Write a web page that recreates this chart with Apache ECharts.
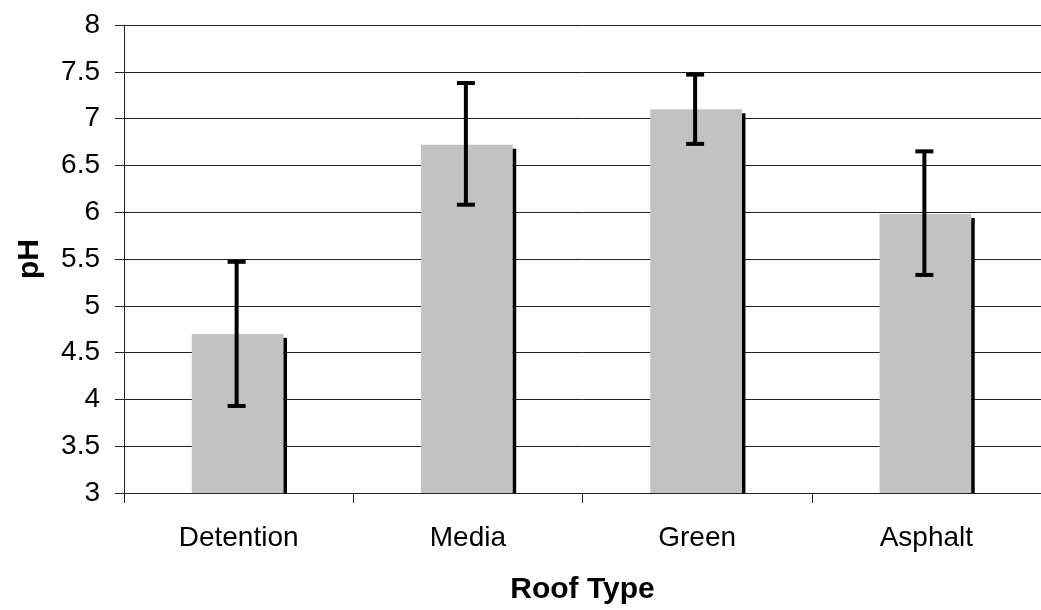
<!DOCTYPE html>
<html>
<head>
<meta charset="utf-8">
<script src="https://cdn.jsdelivr.net/npm/echarts@6/dist/echarts.min.js"></script>
<style>html,body{margin:0;padding:0;background:#fff;}#c{width:1041px;height:610px;}</style>
</head>
<body>
<div id="c"></div>
<script>
var categories = ['Detention', 'Media', 'Green', 'Asphalt'];
var meanPH = [4.70, 6.72, 7.10, 5.98];
var errUpper = [5.47, 7.38, 7.47, 6.65];
var errLower = [3.93, 6.08, 6.73, 5.33];
var yTicks = [3, 3.5, 4, 4.5, 5, 5.5, 6, 6.5, 7, 7.5, 8];

var chart = echarts.init(document.getElementById('c'));
var FONT = 'Liberation Sans, Arial, sans-serif';

var barData = categories.map(function (c, i) { return [i, meanPH[i]]; });
var errData = categories.map(function (c, i) { return [i, errLower[i], errUpper[i]]; });

chart.setOption({
  animation: false,
  backgroundColor: '#fff',
  grid: { left: 124, right: -12, top: 25, bottom: 112, containLabel: false },
  xAxis: {
    type: 'category',
    data: categories,
    name: 'Roof Type',
    nameLocation: 'middle',
    nameGap: 82,
    nameTextStyle: { fontFamily: FONT, fontSize: 30, fontWeight: 'bold', color: '#000' },
    axisLine: { lineStyle: { color: '#222', width: 1 } },
    axisTick: { show: true, length: 10, alignWithLabel: false, lineStyle: { color: '#222' } },
    axisLabel: { fontFamily: FONT, fontSize: 28, color: '#000', margin: 31 },
    splitLine: { show: false }
  },
  yAxis: {
    type: 'value',
    min: 3, max: 8, interval: 0.5,
    name: 'pH',
    nameLocation: 'middle',
    nameGap: 79,
    nameTextStyle: { fontFamily: FONT, fontSize: 30, fontWeight: 'bold', color: '#000' },
    axisLine: { show: true, lineStyle: { color: '#222', width: 1 } },
    axisTick: { show: true, length: 9, inside: false, lineStyle: { color: '#222' } },
    axisLabel: {
      fontFamily: FONT, fontSize: 28, color: '#000', margin: 24,
      formatter: function (v) { return yTicks.indexOf(v) >= 0 ? String(v) : ''; }
    },
    splitLine: { show: true, lineStyle: { color: '#222', width: 1 } }
  },
  series: [
    {
      type: 'custom',
      data: barData,
      z: 3,
      renderItem: function (params, api) {
        var x = api.value(0), v = api.value(1);
        var top = api.coord([x, v]);
        var base = api.coord([x, 3]);
        var bw = api.size([1, 0])[0] * 0.40;
        var cx = top[0] - 1;
        var left = cx - bw / 2;
        return {
          type: 'group',
          children: [
            { type: 'rect', shape: { x: left, y: top[1], width: bw, height: base[1] - top[1] },
              style: { fill: '#c2c2c2' } },
            { type: 'rect', shape: { x: left + bw, y: top[1] + 4, width: 3.5, height: base[1] - top[1] - 4 },
              style: { fill: '#000' } }
          ]
        };
      }
    },
    {
      type: 'custom',
      data: errData,
      z: 4,
      renderItem: function (params, api) {
        var x = api.value(0);
        var lo = api.coord([x, api.value(1)]);
        var hi = api.coord([x, api.value(2)]);
        var cx = lo[0] - 2;
        var cap = 9;
        var st = { stroke: '#000', lineWidth: 4 };
        return {
          type: 'group',
          children: [
            { type: 'line', shape: { x1: cx, y1: hi[1], x2: cx, y2: lo[1] }, style: st },
            { type: 'line', shape: { x1: cx - cap, y1: hi[1], x2: cx + cap, y2: hi[1] }, style: st },
            { type: 'line', shape: { x1: cx - cap, y1: lo[1], x2: cx + cap, y2: lo[1] }, style: st }
          ]
        };
      }
    }
  ]
});
</script>
</body>
</html>
